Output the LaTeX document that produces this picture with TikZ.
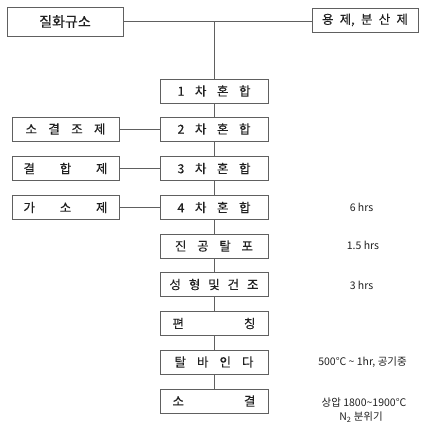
\documentclass[tikz,border=0pt]{standalone}
\usepackage{fontspec}
\setmainfont{Noto Sans CJK KR}[FakeBold=0.2]
\newfontfamily\notefont{Noto Sans CJK KR}
\definecolor{linec}{HTML}{606060}
\definecolor{txt}{HTML}{202020}
\newcommand{\sprd}[2]{\makebox[#1][s]{#2}}
\begin{document}
\begin{tikzpicture}[x=1pt,y=-1pt,
  box/.style={draw=linec, line width=0.9pt, minimum height=24pt, inner sep=0pt,
    font=\fontsize{12.5}{14}\selectfont, text=txt},
  mainbox/.style={box, minimum width=108pt},
  sidebox/.style={box, minimum width=107pt},
  note/.style={font=\notefont\fontsize{10.5}{12}\selectfont, text=txt, inner sep=0pt},
  conn/.style={draw=linec, line width=0.9pt}]
\useasboundingbox (0,0) rectangle (428,432);

\node[box, minimum width=116pt, minimum height=29pt, font=\fontsize{14}{16}\selectfont] (jh) at (65,21.5) {질화규소};
\node[box, minimum width=106pt] (yj) at (365,20) {\sprd{86pt}{용\hfill 제,\hfill 분\hfill 산\hfill 제}};

\node[mainbox] (m1) at (214,91) {\sprd{73pt}{1\hfill 차\hfill 혼\hfill 합}};
\node[mainbox] (m2) at (214,129) {\sprd{73pt}{2\hfill 차\hfill 혼\hfill 합}};
\node[mainbox] (m3) at (214,168.5) {\sprd{73pt}{3\hfill 차\hfill 혼\hfill 합}};
\node[mainbox] (m4) at (214,207.5) {\sprd{73pt}{4\hfill 차\hfill 혼\hfill 합}};
\node[mainbox] (m5) at (214,246) {\sprd{78pt}{진\hfill 공\hfill 탈\hfill 포}};
\node[mainbox] (m6) at (214,284.5) {\sprd{89pt}{성\hfill 형\hfill 및\hfill 건\hfill 조}};
\node[mainbox] (m7) at (214,323.5) {\sprd{83pt}{편\hfill 칭}};
\node[mainbox] (m8) at (214,362) {\sprd{79pt}{탈\hfill 바\hfill 인\hfill 다}};
\node[mainbox] (m9) at (214,401) {\sprd{83pt}{소\hfill 결}};

\node[sidebox] (s2) at (65.5,129) {\sprd{80pt}{소\hfill 결\hfill 조\hfill 제}};
\node[sidebox] (s3) at (65.5,168.5) {\sprd{84pt}{결\hfill 합\hfill 제}};
\node[sidebox] (s4) at (65.5,207.5) {\sprd{84pt}{가\hfill 소\hfill 제}};

\node[note] (n4) at (361.5,207) {6 hrs};
\node[note] (n5) at (363,245) {1.5 hrs};
\node[note] (n6) at (361.5,285) {3 hrs};
\node[note] (n8) at (362.5,362) {500°C \textasciitilde{} 1hr, 공기중};
\node[note] (n9a) at (364,403) {상압 1800\textasciitilde{}1900°C};
\node[note] (n9b) at (361,417) {N\textsubscript{2} 분위기};

\coordinate (j) at (m1.north |- jh.east);
\draw[conn] (jh.east) -- (jh.east -| yj.west);
\draw[conn] (j) -- (m1.north);
\draw[conn] (m1.south) -- (m2.north);
\draw[conn] (m2.south) -- (m3.north);
\draw[conn] (m3.south) -- (m4.north);
\draw[conn] (m4.south) -- (m5.north);
\draw[conn] (m5.south) -- (m6.north);
\draw[conn] (m6.south) -- (m7.north);
\draw[conn] (m7.south) -- (m8.north);
\draw[conn] (m8.south) -- (m9.north);
\draw[conn] (s2.east) -- (m2.west);
\draw[conn] (s3.east) -- (m3.west);
\draw[conn] (s4.east) -- (m4.west);
\end{tikzpicture}
\end{document}
